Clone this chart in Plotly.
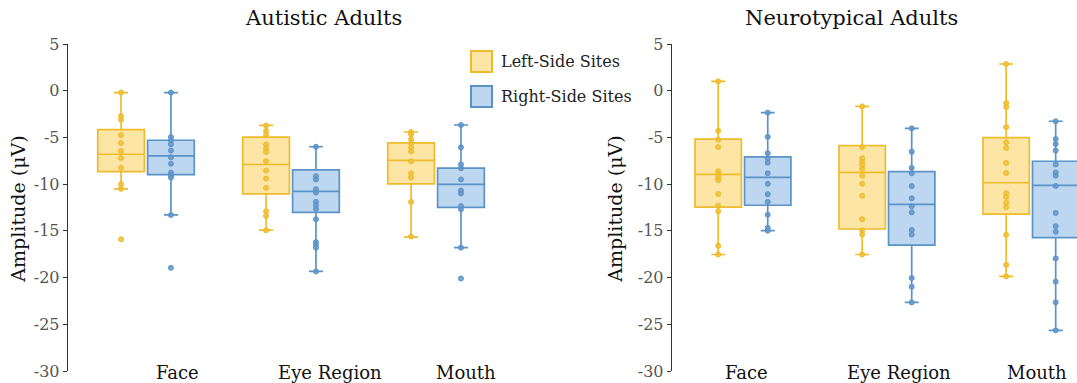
import plotly.graph_objects as go

# ---------------------------------------------------------------- data
categories = ["Face", "Eye Region", "Mouth"]
panel_titles = ["Autistic Adults", "Neurotypical Adults"]
series_names = ["Left-Side Sites", "Right-Side Sites"]
y_ticks = [5, 0, -5, -10, -15, -20, -25, -30]
y_tick_labels = ["5", "0", "-5", "-10", "-15", "-20", "-25", "-30"]

# Autistic adults - individual amplitudes (µV) per region
aut_left_points = [
    [-0.2, -2.7, -3.1, -4.75, -5.6, -6.45, -7.2, -8.25, -10.0, -10.5, -15.9],
    [-3.72, -4.3, -4.7, -5.75, -6.2, -6.55, -7.55, -8.55, -9.4, -10.4, -12.9, -13.4, -14.93],
    [-4.42, -4.67, -5.22, -5.62, -6.08, -6.5, -7.55, -8.85, -9.3, -11.9, -15.6],
]
aut_right_points = [
    [-0.2, -4.96, -5.32, -5.72, -6.4, -7.12, -7.81, -8.78, -9.07, -9.3, -13.3, -18.96],
    [-6.0, -9.15, -9.5, -10.55, -10.9, -11.9, -12.25, -12.65, -13.75, -16.2, -16.5, -16.8, -19.34],
    [-3.67, -6.05, -7.89, -8.3, -9.5, -10.68, -11.0, -12.35, -12.68, -16.8, -20.1],
]
# Autistic adults - box statistics per region
aut_left_q1 = [-8.65, -11.05, -9.98]
aut_left_median = [-6.8, -7.9, -7.46]
aut_left_q3 = [-4.17, -4.96, -5.58]
aut_left_low = [-10.5, -14.93, -15.68]
aut_left_high = [-0.2, -3.72, -4.42]
aut_right_q1 = [-8.98, -13.02, -12.48]
aut_right_median = [-6.98, -10.77, -10.03]
aut_right_q3 = [-5.3, -8.48, -8.28]
aut_right_low = [-13.3, -19.34, -16.8]
aut_right_high = [-0.2, -6.0, -3.67]

# Neurotypical adults - individual amplitudes (µV) per region
nt_left_points = [
    [1.0, -4.28, -5.24, -6.03, -8.62, -8.93, -9.25, -9.57, -11.05, -12.32, -12.9, -16.6, -17.53],
    [-1.68, -6.03, -7.23, -7.6, -7.95, -8.37, -9.1, -9.96, -11.23, -13.75, -14.96, -15.38, -17.53],
    [2.86, -1.32, -1.75, -3.9, -5.53, -6.12, -7.73, -8.82, -10.97, -11.37, -11.98, -12.46, -15.42, -18.64, -19.87],
]
nt_right_points = [
    [-2.35, -4.94, -6.69, -7.26, -7.71, -8.83, -9.96, -11.07, -11.9, -13.28, -14.67, -14.98],
    [-4.03, -6.53, -8.26, -8.84, -10.21, -11.52, -12.37, -13.02, -14.91, -15.4, -20.05, -20.98, -22.66],
    [-3.27, -5.18, -5.7, -6.4, -7.89, -8.75, -9.1, -10.2, -13.08, -14.5, -15.1, -17.95, -20.43, -22.65, -25.65],
]
# Neurotypical adults - box statistics per region
nt_left_q1 = [-12.46, -14.8, -13.2]
nt_left_median = [-8.95, -8.75, -9.85]
nt_left_q3 = [-5.18, -5.88, -5.03]
nt_left_low = [-17.53, -17.53, -19.87]
nt_left_high = [1.0, -1.68, 2.86]
nt_right_q1 = [-12.26, -16.52, -15.73]
nt_right_median = [-9.28, -12.16, -10.14]
nt_right_q3 = [-7.08, -8.67, -7.55]
nt_right_low = [-14.98, -22.66, -25.65]
nt_right_high = [-2.35, -4.03, -3.27]

# ---------------------------------------------------------------- style
W, H = 1077, 383
M_TOP, M_BOT = 44, 12.3
FONT = "DejaVu Serif, Liberation Serif, serif"
EDGE = ["#EDBB2B", "#5B93C7"]
FILL = ["rgba(251,214,110,0.62)", "rgba(150,190,230,0.62)"]
DOT = ["rgba(240,190,50,0.85)", "rgba(95,150,205,0.85)"]
SIDE_OFFSET = [-0.172, 0.172]
BOX_WIDTH = 0.322


def pyv(px_from_top):
    """Convert a vertical pixel position (from the top of the figure) to paper units."""
    return (H - M_BOT - px_from_top) / (H - M_TOP - M_BOT)


panels = [
    dict(xa="x", ya="y", domain=[67.7 / W, 560 / W], xrange=[0.46, 3.855],
         label_x=[1.22, 2.27, 3.21], title_x=323 / W, ytitle_x=18.5 / W,
         series=[(aut_left_points, aut_left_q1, aut_left_median, aut_left_q3, aut_left_low, aut_left_high),
                 (aut_right_points, aut_right_q1, aut_right_median, aut_right_q3, aut_right_low, aut_right_high)]),
    dict(xa="x2", ya="y2", domain=[671.7 / W, 1.0], xrange=[0.505, 3.32],
         label_x=[1.026, 2.082, 3.04], title_x=851 / W, ytitle_x=615.5 / W,
         series=[(nt_left_points, nt_left_q1, nt_left_median, nt_left_q3, nt_left_low, nt_left_high),
                 (nt_right_points, nt_right_q1, nt_right_median, nt_right_q3, nt_right_low, nt_right_high)]),
]

fig = go.Figure()
cat_pos = list(range(1, len(categories) + 1))

for p in panels:
    for s, (pts, q1, med, q3, lo, hi) in enumerate(p["series"]):
        xs = [c + SIDE_OFFSET[s] for c in cat_pos]
        fig.add_trace(go.Box(
            x=xs, q1=q1, median=med, q3=q3, lowerfence=lo, upperfence=hi,
            width=BOX_WIDTH, whiskerwidth=0.3, boxpoints=False,
            line=dict(color=EDGE[s], width=1.7), fillcolor=FILL[s],
            name=series_names[s], showlegend=False,
            xaxis=p["xa"], yaxis=p["ya"],
        ))
        px, py = [], []
        for x0, vals in zip(xs, pts):
            px += [x0] * len(vals)
            py += vals
        fig.add_trace(go.Scatter(
            x=px, y=py, mode="markers",
            marker=dict(size=5, color=DOT[s], line=dict(color=EDGE[s], width=1)),
            showlegend=False, hoverinfo="y",
            xaxis=p["xa"], yaxis=p["ya"],
        ))

axis_common_y = dict(
    range=[-30, 5], tickvals=y_ticks, ticktext=y_tick_labels, ticks="outside",
    ticklen=4, tickwidth=1, tickcolor="#333", showline=True, linecolor="#333",
    linewidth=1, showgrid=False, zeroline=False,
    tickfont=dict(family=FONT, size=16, color="#555"),
)
axis_common_x = dict(visible=False, showgrid=False, zeroline=False)

annotations = []
for i, p in enumerate(panels):
    # category labels along the bottom
    for lx, name in zip(p["label_x"], categories):
        annotations.append(dict(
            x=lx, y=-30, xref=p["xa"], yref=p["ya"], text=name, showarrow=False,
            xanchor="center", yanchor="middle", yshift=-1,
            font=dict(family=FONT, size=18, color="#111"),
        ))
    # panel title
    annotations.append(dict(
        x=p["title_x"], y=pyv(18), xref="paper", yref="paper", text=panel_titles[i],
        showarrow=False, xanchor="center", yanchor="middle",
        font=dict(family=FONT, size=21, color="#111"),
    ))
    # y axis title
    annotations.append(dict(
        x=p["ytitle_x"], y=pyv(209), xref="paper", yref="paper", text="Amplitude (μV)",
        textangle=-90, showarrow=False, xanchor="center", yanchor="middle",
        font=dict(family=FONT, size=19, color="#111"),
    ))

# legend swatches and labels
shapes = []
leg_rows = [61.5, 96.5]
for s, cy in enumerate(leg_rows):
    shapes.append(dict(
        type="rect", xref="paper", yref="paper",
        x0=471 / W, x1=492 / W, y0=pyv(cy + 10.5), y1=pyv(cy - 10.5),
        line=dict(color=EDGE[s], width=2), fillcolor=FILL[s],
    ))
    annotations.append(dict(
        x=499 / W, y=pyv(cy), xref="paper", yref="paper", text=series_names[s],
        showarrow=False, xanchor="left", yanchor="middle",
        font=dict(family=FONT, size=16, color="#222"),
    ))

fig.update_layout(
    width=W, height=H, autosize=False,
    margin=dict(l=0, r=0, t=M_TOP, b=M_BOT),
    paper_bgcolor="white", plot_bgcolor="white",
    xaxis=dict(domain=panels[0]["domain"], range=panels[0]["xrange"], anchor="y", **axis_common_x),
    xaxis2=dict(domain=panels[1]["domain"], range=panels[1]["xrange"], anchor="y2", **axis_common_x),
    yaxis=dict(anchor="x", **axis_common_y),
    yaxis2=dict(anchor="x2", **axis_common_y),
    annotations=annotations, shapes=shapes,
    boxmode="overlay",
)

fig.write_html("out.html")
